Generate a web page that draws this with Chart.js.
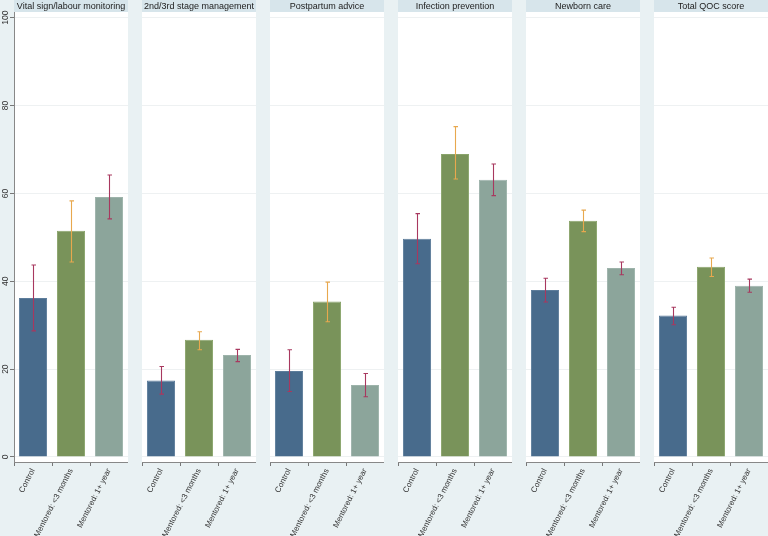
<!DOCTYPE html>
<html lang="en">
<head>
<meta charset="UTF-8">
<title>QOC scores by mentoring group</title>
<style>
  body {
    margin: 0;
    padding: 0;
    background-color: #e9f1f3;
    width: 768px;
    height: 536px;
    overflow: hidden;
    position: relative;
    font-family: 'Liberation Sans', Arial, sans-serif;
  }
  canvas {
    position: absolute;
    top: 0;
  }
</style>
<script src="https://cdn.jsdelivr.net/npm/chart.js"></script>
</head>
<body>

<script>
  // panel titles and bar groups
  const panels = ['Vital sign/labour monitoring', '2nd/3rd stage management', 'Postpartum advice',
                  'Infection prevention', 'Newborn care', 'Total QOC score'];
  const groups = ['Control', 'Mentored: <3 months', 'Mentored: 1+ year'];

  // means and 95% CI per panel
  const controlMean = [36.2, 17.4, 19.6, 49.7, 38.0, 32.2];
  const controlLo   = [28.7, 14.3, 14.9, 44.0, 35.3, 30.1];
  const controlHi   = [43.7, 20.6, 24.4, 55.4, 40.7, 34.1];

  const shortMean = [51.5, 26.7, 35.4, 69.0, 53.8, 43.3];
  const shortLo   = [44.4, 24.4, 30.8, 63.3, 51.3, 41.1];
  const shortHi   = [58.3, 28.5, 39.8, 75.2, 56.2, 45.3];

  const longMean = [59.2, 23.2, 16.4, 63.1, 43.0, 39.0];
  const longLo   = [54.2, 21.7, 13.7, 59.5, 41.5, 37.5];
  const longHi   = [64.2, 24.5, 19.0, 66.7, 44.4, 40.5];

  const yTicks = [0, 20, 40, 60, 80, 100];

  const barColors = ['#486b8c', '#79935a', '#8ca59b'];
  const barBorders = ['#5d7d9b', '#8aa46b', '#9db3aa'];
  const ciColors = ['#a8385f', '#e8a84e', '#a8385f'];
  const FONT = "'Liberation Sans', Arial, sans-serif";

  // white plot area + header strip
  const panelBg = {
    id: 'panelBg',
    beforeDraw(chart, args, opts) {
      const ctx = chart.ctx;
      const a = chart.chartArea;
      ctx.save();
      ctx.fillStyle = '#ffffff';
      ctx.fillRect(a.left, a.top, a.right - a.left, a.bottom - a.top);
      ctx.fillStyle = '#d7e5eb';
      ctx.fillRect(a.left, 0, a.right - a.left, 12);
      ctx.fillStyle = '#222';
      ctx.font = '9px ' + FONT;
      ctx.textAlign = 'center';
      ctx.textBaseline = 'middle';
      ctx.fillText(opts.title, (a.left + a.right) / 2, 6.5);
      ctx.restore();
    }
  };

  // confidence interval whiskers
  const ciBars = {
    id: 'ciBars',
    afterDatasetsDraw(chart, args, opts) {
      const ctx = chart.ctx;
      const x = chart.scales.x, y = chart.scales.y;
      ctx.save();
      ctx.lineWidth = 1.1;
      opts.lo.forEach((lo, j) => {
        const px = Math.round(x.getPixelForValue(j)) + 0.5;
        const p1 = y.getPixelForValue(lo);
        const p2 = y.getPixelForValue(opts.hi[j]);
        ctx.strokeStyle = ciColors[j];
        ctx.beginPath();
        ctx.moveTo(px, p1); ctx.lineTo(px, p2);
        ctx.moveTo(px - 2, p1); ctx.lineTo(px + 2.5, p1);
        ctx.moveTo(px - 2, p2); ctx.lineTo(px + 2.5, p2);
        ctx.stroke();
      });
      ctx.restore();
    }
  };

  // vertical y tick labels on the first panel
  const yLabels = {
    id: 'yLabels',
    afterDraw(chart, args, opts) {
      if (!opts.show) return;
      const ctx = chart.ctx;
      const y = chart.scales.y;
      ctx.save();
      ctx.fillStyle = '#333';
      ctx.font = '8.5px ' + FONT;
      ctx.textAlign = 'center';
      ctx.textBaseline = 'middle';
      y.ticks.forEach(t => {
        ctx.save();
        ctx.translate(5.5, y.getPixelForValue(t.value));
        ctx.rotate(-Math.PI / 2);
        ctx.fillText(String(t.value), 0, 0);
        ctx.restore();
      });
      ctx.restore();
    }
  };

  panels.forEach((title, i) => {
    const first = i === 0;
    const canvas = document.createElement('canvas');
    const left = first ? 0 : 142 + (i - 1) * 128;
    const width = first ? 128 : 114;
    canvas.width = width;
    canvas.height = 536;
    canvas.style.left = left + 'px';
    canvas.style.width = width + 'px';
    canvas.style.height = '536px';
    document.body.appendChild(canvas);

    new Chart(canvas.getContext('2d'), {
      type: 'bar',
      data: {
        labels: groups,
        datasets: [{
          data: [controlMean[i], shortMean[i], longMean[i]],
          backgroundColor: barColors,
          borderColor: barBorders,
          borderWidth: 1,
          categoryPercentage: 1,
          barPercentage: 0.74
        }]
      },
      options: {
        responsive: false,
        animation: false,
        devicePixelRatio: 1,
        layout: { padding: { top: 12, left: 0, right: 0, bottom: 0 } },
        plugins: {
          legend: { display: false },
          tooltip: { enabled: false },
          panelBg: { title: title },
          ciBars: {
            lo: [controlLo[i], shortLo[i], longLo[i]],
            hi: [controlHi[i], shortHi[i], longHi[i]]
          },
          yLabels: { show: first }
        },
        scales: {
          x: {
            offset: true,
            grid: { display: true, drawOnChartArea: false, drawTicks: true, tickLength: 4, color: '#777' },
            border: { display: true, color: '#888', width: 1 },
            ticks: {
              color: '#333',
              font: { size: 8, family: FONT },
              minRotation: 63,
              maxRotation: 63,
              padding: 1
            },
            afterFit: s => { s.height = 74; }
          },
          y: {
            min: -1.14,
            max: 101.3,
            afterBuildTicks: s => { s.ticks = yTicks.map(v => ({ value: v })); },
            grid: {
              color: '#eef1f2',
              drawTicks: first,
              tickLength: 4,
              tickColor: '#777'
            },
            border: { display: first, color: '#888', width: 1 },
            ticks: { display: false },
            afterFit: s => { s.width = first ? 14 : 0; }
          }
        }
      },
      plugins: [panelBg, ciBars, yLabels]
    });
  });
</script>

</body>
</html>
